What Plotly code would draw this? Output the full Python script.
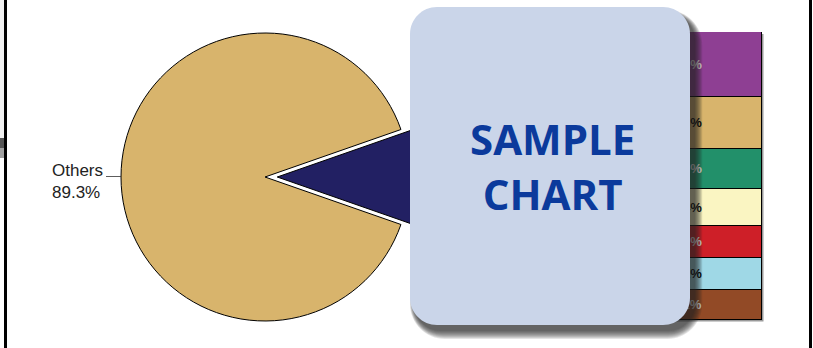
import plotly.graph_objects as go

W, H = 813, 348

# ---- data ----
pie_labels = ["Detail", "Others"]
pie_values = [10.7, 89.3]
pie_colors = ["#222063", "#D8B46C"]

bar_names = ["Brown", "Light blue", "Red", "Light yellow", "Green", "Tan", "Purple"]   # bottom -> top
bar_values = [1.11, 1.21, 1.19, 1.34, 1.50, 1.93, 2.42]
bar_colors = ["#924A26", "#9FD8E6", "#CE1F28", "#FAF5C2", "#22906A", "#D8B46C", "#8E3F93"]
bar_text_colors = ["#E6E6E6", "#000000", "#E6E6E6", "#000000", "#E6E6E6", "#000000", "#E6E6E6"]

def fx(x):
    return x / W

def fy(y):
    return 1 - y / H

def rrect(x0, y0, x1, y1, r):
    rx, ry = r / W, r / H
    X0, X1, T, B = fx(x0), fx(x1), fy(y0), fy(y1)
    k = 0.4477
    return (f"M {X0+rx},{T} L {X1-rx},{T} "
            f"C {X1-rx*k},{T} {X1},{T-ry*k} {X1},{T-ry} "
            f"L {X1},{B+ry} "
            f"C {X1},{B+ry*k} {X1-rx*k},{B} {X1-rx},{B} "
            f"L {X0+rx},{B} "
            f"C {X0+rx*k},{B} {X0},{B+ry*k} {X0},{B+ry} "
            f"L {X0},{T-ry} "
            f"C {X0},{T-ry*k} {X0+rx*k},{T} {X0+rx},{T} Z")

fig = go.Figure()

# pie
cx, cy, r, pull = 265, 177, 144, 0.085
half = r * (1 + pull)
fig.add_trace(go.Pie(
    labels=pie_labels, values=pie_values, sort=False,
    direction="clockwise", rotation=90 - pie_values[0] / sum(pie_values) * 180,
    pull=[pull, 0], marker=dict(colors=pie_colors, line=dict(color="#000000", width=1)),
    textinfo="none", hoverinfo="label+percent", showlegend=False,
    domain=dict(x=[fx(cx - half), fx(cx + half)], y=[fy(cy + half), fy(cy - half)]),
))

# stacked bar
for name, v, c, tc in zip(bar_names, bar_values, bar_colors, bar_text_colors):
    fig.add_trace(go.Bar(
        x=["Detail"], y=[v], name=name, marker=dict(color=c, line=dict(color="#000000", width=1)),
        text=[f"{v:.2f}%"], textposition="inside", insidetextanchor="middle",
        textangle=0, textfont=dict(color=tc, size=13, family="Liberation Sans", weight="bold"),
        showlegend=False, xaxis="x", yaxis="y",
    ))

shapes = []
# bar drop shadow (below)
shapes.append(dict(type="rect", xref="paper", yref="paper", layer="below",
                   x0=fx(610), x1=fx(763.5), y0=fy(321.5), y1=fy(34),
                   fillcolor="#9a9a9a", line=dict(width=0)))
# frame lines
shapes.append(dict(type="rect", xref="paper", yref="paper", layer="above",
                   x0=0, x1=fx(4), y0=fy(138), y1=1, fillcolor="#F1F1F1", line=dict(width=0)))
shapes.append(dict(type="rect", xref="paper", yref="paper", layer="above",
                   x0=0, x1=fx(4), y0=fy(148), y1=fy(138), fillcolor="#555555", line=dict(width=0)))
shapes.append(dict(type="rect", xref="paper", yref="paper", layer="above",
                   x0=0, x1=fx(4), y0=fy(158), y1=fy(148), fillcolor="#A0A0A0", line=dict(width=0)))
shapes.append(dict(type="rect", xref="paper", yref="paper", layer="above",
                   x0=fx(4), x1=fx(7), y0=0, y1=1, fillcolor="#000000", line=dict(width=0)))
shapes.append(dict(type="rect", xref="paper", yref="paper", layer="above",
                   x0=fx(809), x1=fx(812), y0=0, y1=1, fillcolor="#000000", line=dict(width=0)))
# leader line
shapes.append(dict(type="line", xref="paper", yref="paper", layer="above",
                   x0=fx(106), x1=fx(121), y0=fy(176.5), y1=fy(176.5),
                   line=dict(color="#333333", width=0.8)))
# box shadow (soft)
for i in range(9):
    g = 8 - i
    shapes.append(dict(type="path", xref="paper", yref="paper", layer="above",
                       path=rrect(414 - g * 0.5, 14 - g * 0.5, 695 + g * 0.9, 331 + g * 1.0, 27 + g),
                       fillcolor="rgba(30,30,30,0.12)", line=dict(width=0)))
# box
shapes.append(dict(type="path", xref="paper", yref="paper", layer="above",
                   path=rrect(410, 7, 690, 325, 27), fillcolor="#CAD5E9", line=dict(width=0)))

annotations = [
    dict(text="SAMPLE<br>CHART", xref="paper", yref="paper", x=fx(552), y=fy(166),
         xanchor="center", yanchor="middle", showarrow=False, align="center",
         font=dict(family="Open Sans", size=42, color="#0B3A9C", weight=700)),
    dict(text=f"{pie_labels[1]}<br>{pie_values[1]}%", xref="paper", yref="paper",
         x=fx(50), y=fy(159), xanchor="left", yanchor="top", showarrow=False, align="left",
         font=dict(family="Liberation Sans", size=17, color="#222222")),
]

fig.update_layout(
    width=W, height=H, margin=dict(l=0, r=0, t=0, b=0),
    paper_bgcolor="#FFFFFF", plot_bgcolor="rgba(0,0,0,0)",
    barmode="stack", bargap=0,
    xaxis=dict(domain=[fx(606), fx(762)], visible=False, fixedrange=True),
    yaxis=dict(domain=[fy(320), fy(32)], range=[0, sum(bar_values)], visible=False, fixedrange=True),
    shapes=shapes, annotations=annotations,
    uniformtext=dict(minsize=13, mode="show"),
)

fig.write_html("out.html")
